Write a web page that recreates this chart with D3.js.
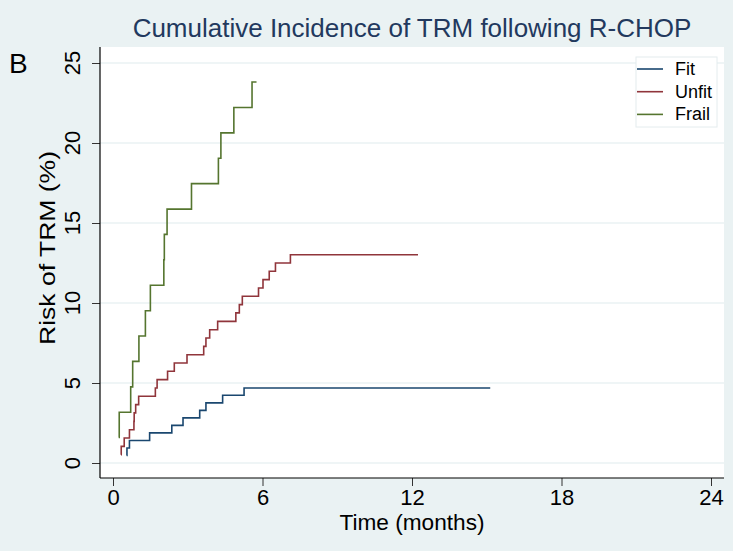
<!DOCTYPE html>
<html>
<head>
<meta charset="utf-8">
<script src="https://cdn.jsdelivr.net/npm/d3@7"></script>
<style>
  body { margin: 0; background: #eaf2f3; }
  svg { display: block; }
</style>
</head>
<body>
<div id="chart"></div>
<script>
// cumulative incidence step curves

const groups = ["Fit", "Unfit", "Frail"];
const groupColors = ["#1a476f", "#90353b", "#55752f"];

const fitTime = [0.55, 0.56, 0.66, 1.47, 2.36, 2.81, 3.48, 3.73, 4.40, 5.26, 15.14];
const fitRisk = [0.47, 0.94, 1.41, 1.88, 2.35, 2.82, 3.29, 3.76, 4.23, 4.69, 4.69];

const unfitTime = [0.32, 0.33, 0.45, 0.66, 0.84, 0.85, 0.91, 1.03, 1.70, 1.77, 2.19, 2.46, 2.97,
	3.64, 3.73, 3.88, 4.20, 4.93, 5.07, 5.19, 5.84, 6.02, 6.27, 6.52, 7.12, 12.24];
const unfitRisk = [0.52, 1.04, 1.56, 2.08, 2.60, 3.13, 3.65, 4.17, 4.69, 5.21, 5.73, 6.25, 6.77,
	7.29, 7.81, 8.33, 8.85, 9.38, 9.90, 10.42, 10.94, 11.46, 11.98, 12.50, 13.02, 13.02];

const frailTime = [0.23, 0.25, 0.71, 0.79, 1.04, 1.30, 1.50, 2.04, 2.06, 2.17, 3.15, 4.23, 4.33, 4.85, 5.58, 5.76];
const frailRisk = [1.59, 3.17, 4.76, 6.35, 7.94, 9.52, 11.11, 12.70, 14.29, 15.87, 17.46, 19.05, 20.63, 22.22, 23.81, 23.81];

const xTicks = [0, 6, 12, 18, 24];
const yTicks = [0, 5, 10, 15, 20, 25];

main();

function main() {
	const width = 733;
	const height = 551;
	const font = "'Liberation Sans', Arial, sans-serif";

	// plot region
	const plot = { left: 100, right: 724, top: 47, bottom: 478 };

	const x = d3.scaleLinear().domain([0, 24]).range([113, 711]);
	const y = d3.scaleLinear().domain([0, 25]).range([463, 63]);

	const series = [
		fitTime.map((t, i) => [t, fitRisk[i]]),
		unfitTime.map((t, i) => [t, unfitRisk[i]]),
		frailTime.map((t, i) => [t, frailRisk[i]])
	];

	const svg = d3.select("#chart").append("svg")
		.attr("width", width)
		.attr("height", height)
		.style("font-family", font);

	svg.append("rect")
		.attr("width", width)
		.attr("height", height)
		.attr("fill", "#eaf2f3");

	svg.append("rect")
		.attr("x", plot.left)
		.attr("y", plot.top)
		.attr("width", plot.right - plot.left)
		.attr("height", plot.bottom - plot.top)
		.attr("fill", "#fff");

	// horizontal gridlines
	svg.append("g")
		.selectAll("line")
		.data(yTicks)
		.join("line")
			.attr("x1", plot.left)
			.attr("x2", plot.right)
			.attr("y1", d => y(d))
			.attr("y2", d => y(d))
			.attr("stroke", "#eaf2f3")
			.attr("stroke-width", 1.5);

	// title
	svg.append("text")
		.attr("x", 412)
		.attr("y", 37)
		.attr("text-anchor", "middle")
		.attr("fill", "#22395e")
		.style("font-size", "26px")
		.text("Cumulative Incidence of TRM following R-CHOP");

	svg.append("text")
		.attr("x", 9)
		.attr("y", 73)
		.attr("fill", "#000")
		.style("font-size", "28px")
		.text("B");

	// x axis
	const xAxis = d3.axisBottom(x).tickValues(xTicks).tickSize(8).tickPadding(3).tickSizeOuter(0);
	svg.append("g")
		.attr("transform", `translate(0,${plot.bottom})`)
		.call(xAxis)
		.call(g => g.select(".domain").remove())
		.call(g => g.selectAll(".tick line").attr("stroke", "#333"))
		.call(g => g.selectAll(".tick text")
			.attr("fill", "#000")
			.style("font-family", font)
			.style("font-size", "22px"));

	svg.append("line")
		.attr("x1", plot.left)
		.attr("x2", plot.right)
		.attr("y1", plot.bottom)
		.attr("y2", plot.bottom)
		.attr("stroke", "#000")
		.attr("stroke-width", 1.2);

	svg.append("text")
		.attr("x", 412)
		.attr("y", 530)
		.attr("text-anchor", "middle")
		.attr("fill", "#000")
		.style("font-size", "22px")
		.attr("textLength", 145)
		.attr("lengthAdjust", "spacingAndGlyphs")
		.text("Time (months)");

	// y axis
	const yAxis = d3.axisLeft(y).tickValues(yTicks).tickSize(8).tickSizeOuter(0);
	svg.append("g")
		.attr("transform", `translate(${plot.left},0)`)
		.call(yAxis)
		.call(g => g.select(".domain").remove())
		.call(g => g.selectAll(".tick line").attr("stroke", "#333"))
		.call(g => g.selectAll(".tick text").remove());

	svg.append("g")
		.selectAll("text")
		.data(yTicks)
		.join("text")
			.attr("transform", d => `translate(80,${y(d)}) rotate(-90)`)
			.attr("text-anchor", "middle")
			.attr("fill", "#000")
			.style("font-size", "22px")
			.text(d => d);

	svg.append("line")
		.attr("x1", plot.left)
		.attr("x2", plot.left)
		.attr("y1", plot.top)
		.attr("y2", plot.bottom)
		.attr("stroke", "#000")
		.attr("stroke-width", 1.2);

	svg.append("text")
		.attr("transform", "translate(55,248) rotate(-90)")
		.attr("text-anchor", "middle")
		.attr("fill", "#000")
		.style("font-size", "22px")
		.attr("textLength", 194)
		.attr("lengthAdjust", "spacingAndGlyphs")
		.text("Risk of TRM (%)");

	// curves
	const line = d3.line()
		.x(d => x(d[0]))
		.y(d => y(d[1]))
		.curve(d3.curveStepAfter);

	svg.append("g")
		.selectAll("path")
		.data(series)
		.join("path")
			.attr("d", line)
			.attr("fill", "none")
			.attr("stroke", (d, i) => groupColors[i])
			.attr("stroke-width", 1.6);

	// legend
	const legend = svg.append("g").attr("transform", "translate(636,57)");
	legend.append("rect")
		.attr("width", 81)
		.attr("height", 70)
		.attr("fill", "#fff")
		.attr("stroke", "#e4ecee");

	const rows = legend.selectAll("g")
		.data(groups)
		.join("g")
			.attr("transform", (d, i) => `translate(0,${12 + i * 22.7})`);

	rows.append("line")
		.attr("x1", 1)
		.attr("x2", 27)
		.attr("stroke", (d, i) => groupColors[i])
		.attr("stroke-width", 1.6);

	rows.append("text")
		.attr("x", 39)
		.attr("y", 6)
		.attr("fill", "#000")
		.style("font-size", "18px")
		.text(d => d);
}
</script>
</body>
</html>
